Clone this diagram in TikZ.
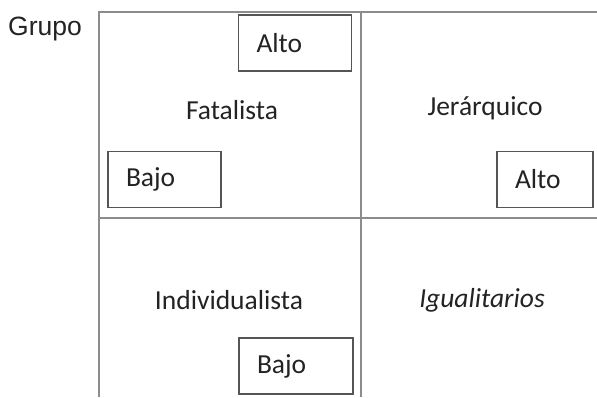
\documentclass[tikz,border=0pt]{standalone}
\usepackage{fontspec}
\setmainfont{Carlito}
\newfontfamily\grupofont{Liberation Sans}
\definecolor{frameline}{RGB}{140,140,140}
\definecolor{boxline}{RGB}{85,85,85}
\definecolor{txt}{RGB}{35,35,35}
\begin{document}
\begin{tikzpicture}[x=1pt,y=-1pt,
  frame/.style={draw=frameline, line width=1.8pt},
  lvlbox/.style={draw=boxline, line width=1.8pt, text=txt, font=\fontsize{27.5}{30}\selectfont,
    inner xsep=18pt, inner ysep=0pt, align=left, minimum height=56pt},
  qlabel/.style={text=txt, font=\fontsize{27.5}{30}\selectfont, inner sep=0pt}]
\useasboundingbox[fill=white] (0,0) rectangle (597,397);
% frame
\coordinate (tl) at (99,12);
\coordinate (tr) at (597,12);
\coordinate (bl) at (99,397);
\coordinate (ml) at (99,218);
\coordinate (mr) at (597,218);
\coordinate (mt) at (361,12);
\coordinate (mb) at (361,397);
\draw[frame] (tr) -- (tl) -- (bl);
\draw[frame] (ml) -- (mr);
\draw[frame] (mt) -- (mb);
% label
\node[text=txt, font=\grupofont\fontsize{26.5}{30}\selectfont, inner sep=0pt] (grupo) at (45,29) {Grupo};
% boxes
\node[lvlbox, text width=77pt] (alto1) at (295,43) {Alto};
\node[lvlbox, text width=77pt] (bajo1) at (164.5,179.5) {Bajo};
\node[lvlbox, text width=60pt] (alto2) at (545,179.5) {Alto};
\node[lvlbox, text width=78pt] (bajo2) at (296,366) {Bajo};
% quadrant labels
\node[qlabel] (fat) at (232,110) {Fatalista};
\node[qlabel] (jer) at (485,108) {Jerárquico};
\node[qlabel] (ind) at (229,300) {Individualista};
\node[qlabel, font=\fontsize{27.5}{30}\selectfont\itshape] (igu) at (482,300) {Igualitarios};
\end{tikzpicture}
\end{document}
